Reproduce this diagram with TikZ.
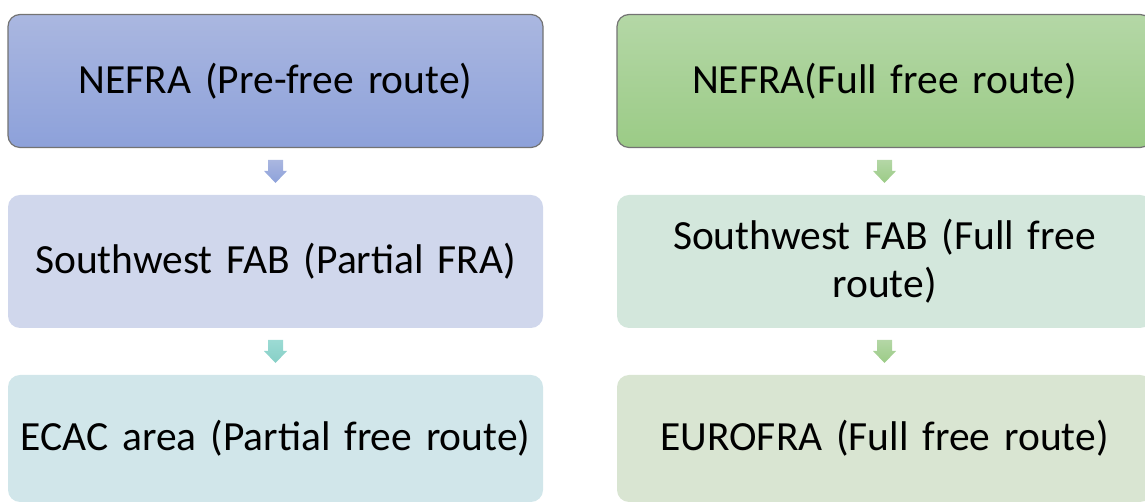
\documentclass[tikz,border=0pt]{standalone}
\usepackage{fontspec}
\setmainfont{Carlito}
\usetikzlibrary{positioning, calc}

\definecolor{blueTop}{HTML}{AAB7E0}
\definecolor{blueBot}{HTML}{8DA1DA}
\definecolor{greenTop}{HTML}{B4D7A6}
\definecolor{greenBot}{HTML}{9BCB86}
\definecolor{tealTop}{HTML}{9CDBD4}
\definecolor{tealBot}{HTML}{86CFC6}
\definecolor{blueMid}{HTML}{D0D7EC}
\definecolor{tealLow}{HTML}{D1E6EA}
\definecolor{greenMid}{HTML}{D3E7DC}
\definecolor{greenLow}{HTML}{D9E5D2}

% block arrow halfway between two boxes: #1 upper, #2 lower, #3/#4 shading
\newcommand{\blockarrow}[4]{%
  \shade[top color=#3, bottom color=#4]
    ($(#1.south)!0.5!(#2.north)$) ++(-7.5,11.5) -- ++(15,0) -- ++(0,-11)
    -- ++(4,0) -- ++(-11.5,-12) -- ++(-11.5,12) -- ++(4,0) -- cycle;}

\begin{document}
\begin{tikzpicture}[x=1pt, y=1pt,
      box/.style={rounded corners=12pt, align=center,
                  minimum width=535pt, minimum height=133pt,
                  text width=520pt, inner sep=0pt,
                  font=\fontsize{41.5}{48}\selectfont},
      headbox/.style={box, draw=black!55, line width=1.2pt}
    ]
    \useasboundingbox (0,0) rectangle (1145,502);

    % left column
    \node[headbox, top color=blueTop, bottom color=blueBot]
          (nefraPre) at (275.5,421) {NEFRA (Pre-free route)};
    \node[box, fill=blueMid] (fabPartial) at (275.5,240.5)
          {Southwest FAB (Partial FRA)};
    \node[box, fill=tealLow, minimum height=127pt] (ecac) at (275.5,63.5)
          {ECAC area (Partial free route)};

    % right column
    \node[headbox, top color=greenTop, bottom color=greenBot]
          (nefraFull) at (884.5,421) {NEFRA(Full free route)};
    \node[box, fill=greenMid] (fabFull) at (884.5,240.5)
          {Southwest FAB (Full free\\route)};
    \node[box, fill=greenLow, minimum height=127pt] (eurofra) at (884.5,63.5)
          {EUROFRA (Full free route)};

    % arrows between the boxes
    \blockarrow{nefraPre}{fabPartial}{blueTop}{blueBot}
    \blockarrow{fabPartial}{ecac}{tealTop}{tealBot}
    \blockarrow{nefraFull}{fabFull}{greenTop}{greenBot}
    \blockarrow{fabFull}{eurofra}{greenTop}{greenBot}
  \end{tikzpicture}
\end{document}
